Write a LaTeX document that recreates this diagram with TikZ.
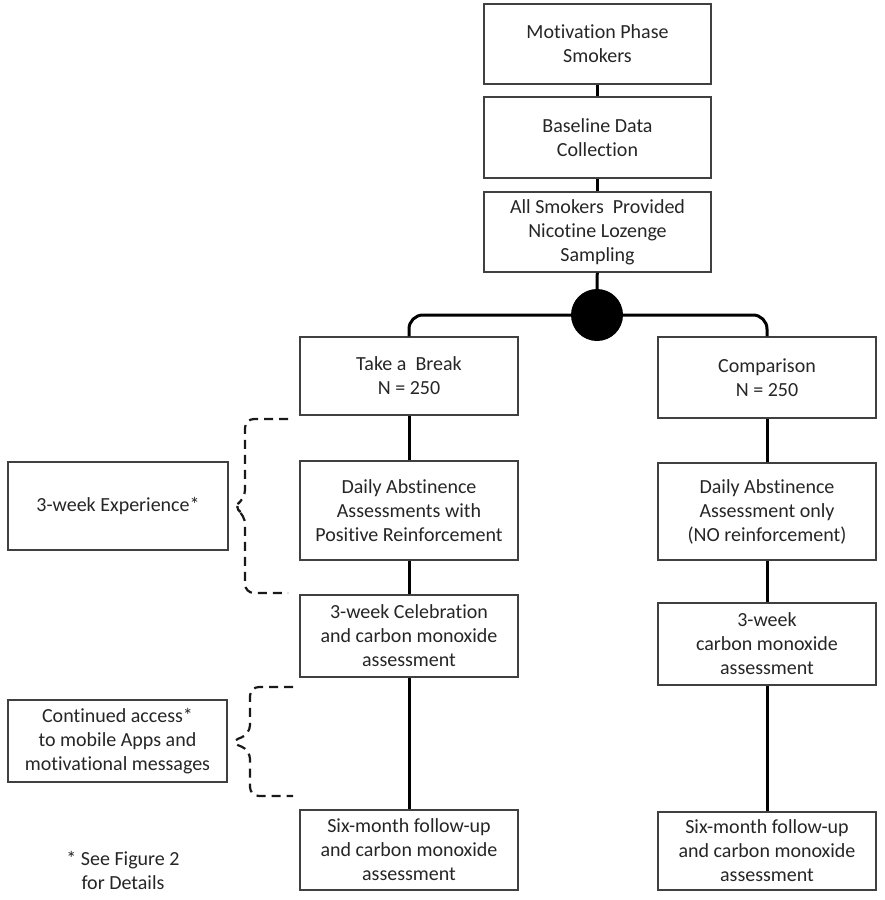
\documentclass[tikz,border=0pt]{standalone}
\usepackage{fontspec}
\setmainfont[Ligatures=NoCommon]{Carlito}
\begin{document}
\begin{tikzpicture}[x=1pt,y=-1pt,
  box/.style={draw=black!75, line width=1.2pt, align=center, text=black!85,
    font=\fontsize{20}{24}\selectfont, inner sep=0pt},
  conn/.style={draw=black, line width=3pt},
  brace/.style={draw=black!90, line width=2.2pt, dash pattern=on 9pt off 6pt, rounded corners=9pt}]
\useasboundingbox (0,0) rectangle (885,900);
\fill[white] (0,0) rectangle (885,900);
% top column
\node[box, minimum width=227pt, minimum height=80pt] (m1) at (597.5,44) {Motivation Phase\\Smokers};
\node[box, minimum width=227pt, minimum height=81pt] (m2) at (597.5,137.5) {Baseline Data\\Collection};
\node[box, minimum width=227pt, minimum height=80pt] (m3) at (597.5,232) {All Smokers~ Provided\\Nicotine Lozenge\\Sampling};
\node[circle, fill=black, minimum size=52pt, inner sep=0pt] (c) at (597,315) {};
% left arm
\node[box, minimum width=218pt, minimum height=78pt] (tb) at (409,376) {Take a~ Break\\N = 250};
\node[box, minimum width=218pt, minimum height=99pt] (da) at (409,510.5) {Daily Abstinence\\Assessments with\\Positive Reinforcement};
\node[box, minimum width=218pt, minimum height=82pt] (cel) at (409,636) {3-week Celebration\\and carbon monoxide\\assessment};
\node[box, minimum width=218pt, minimum height=80pt] (sixL) at (409,850) {Six-month follow-up\\and carbon monoxide\\assessment};
% right arm
\node[box, minimum width=218pt, minimum height=81pt] (cmp) at (767,377.5) {Comparison\\N = 250};
\node[box, minimum width=218pt, minimum height=97pt] (daR) at (767,511.5) {Daily Abstinence\\Assessment only\\(NO reinforcement)};
\node[box, minimum width=218pt, minimum height=82pt] (cmR) at (767,644) {3-week\\carbon monoxide\\assessment};
\node[box, minimum width=218pt, minimum height=78pt] (sixR) at (767,851) {Six-month follow-up\\and carbon monoxide\\assessment};
% side boxes
\node[box, minimum width=220pt, minimum height=88pt] (exp) at (118,506) {3-week Experience*};
\node[box, minimum width=219pt, minimum height=82pt] (cont) at (117.5,741) {Continued access*\\to mobile Apps and\\motivational messages};
\node[align=center, text=black!85, font=\fontsize{20}{24}\selectfont] (note) at (123,870) {* See Figure 2\\for Details};
% connectors
\draw[conn] (m1) -- (m2);
\draw[conn] (m2) -- (m3);
\draw[conn] (m3) -- (c);
\draw[conn, rounded corners=14pt] (c.west) -| (tb.north);
\draw[conn, rounded corners=14pt] (c.east) -| (cmp.north);
\draw[conn] (tb) -- (da);
\draw[conn] (da) -- (cel);
\draw[conn] (cel) -- (sixL);
\draw[conn] (cmp) -- (daR);
\draw[conn] (daR) -- (cmR);
\draw[conn] (cmR) -- (sixR);
% braces
\coordinate (b1t) at (288,419);
\coordinate (b1b) at (288,593);
\draw[brace] (b1t) -- (245,419) -- (245,499) -- (233,507) -- (245,515) -- (245,593) -- (b1b);
\coordinate (b2t) at (293,687);
\coordinate (b2b) at (293,796);
\draw[brace] (b2t) -- (250,687) -- (250,734) -- (230,742) -- (250,750) -- (250,796) -- (b2b);
\end{tikzpicture}
\end{document}
